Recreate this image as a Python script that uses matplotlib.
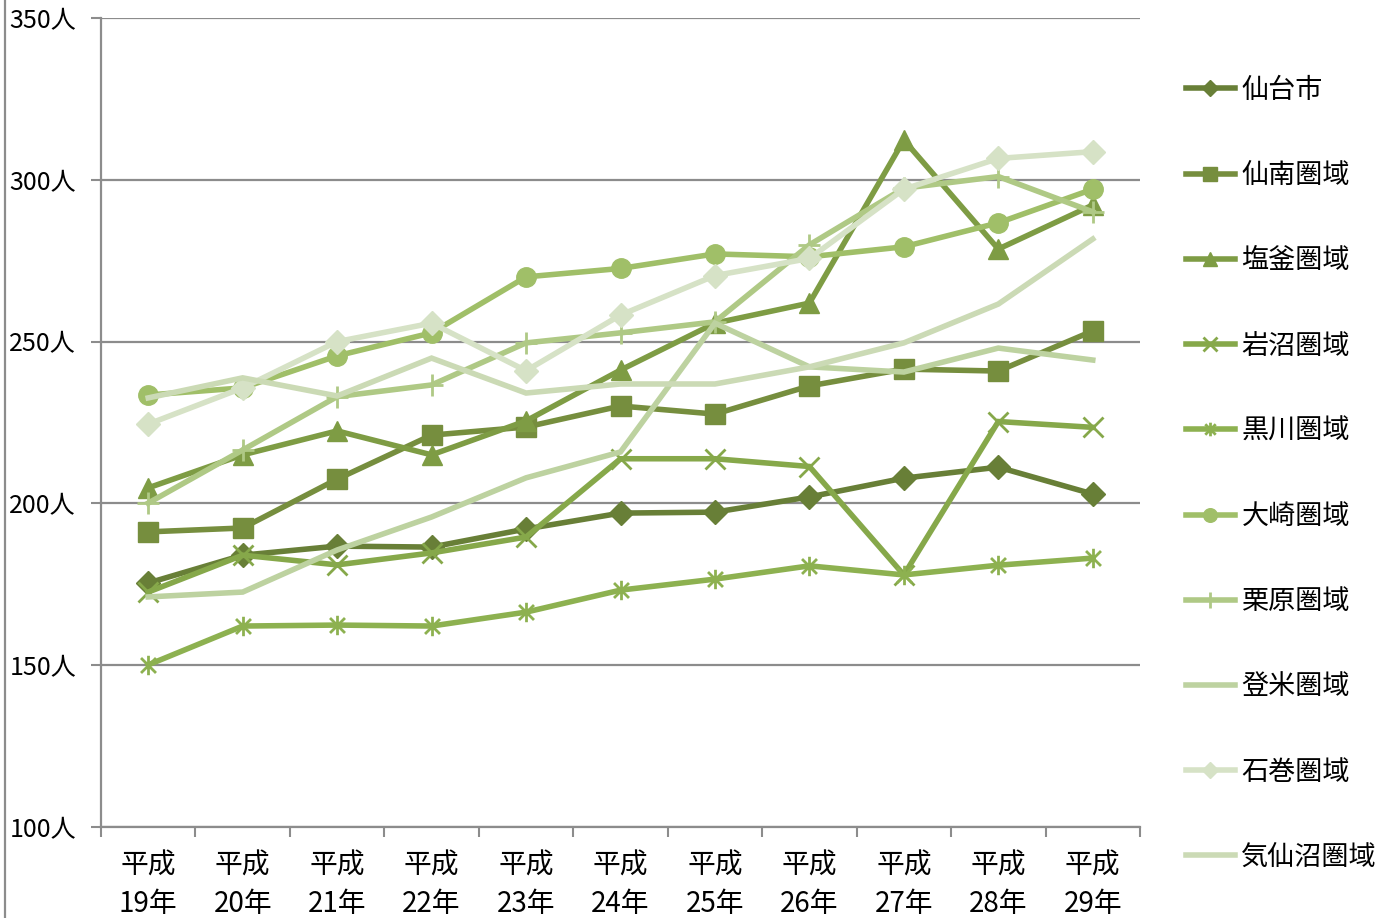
import matplotlib
matplotlib.use("Agg")
import matplotlib.pyplot as plt
from matplotlib.path import Path
from matplotlib.lines import Line2D

plt.rcParams['font.family'] = ['Noto Sans CJK JP', 'DejaVu Sans']

years = ["平成\n19年", "平成\n20年", "平成\n21年", "平成\n22年", "平成\n23年", "平成\n24年",
         "平成\n25年", "平成\n26年", "平成\n27年", "平成\n28年", "平成\n29年"]

series_names = ["仙台市", "仙南圏域", "塩釜圏域", "岩沼圏域", "黒川圏域",
                "大崎圏域", "栗原圏域", "登米圏域", "石巻圏域", "気仙沼圏域"]

sendai = [175.4, 184.0, 186.8, 186.5, 192.1, 197.0, 197.3, 202.0, 207.8, 211.2, 202.9]
sennan = [191.2, 192.4, 207.5, 221.1, 223.6, 230.1, 227.6, 236.3, 241.5, 240.9, 253.3]
shiogama = [204.8, 215.0, 222.4, 215.0, 225.5, 241.2, 255.7, 261.9, 312.3, 278.6, 292.2]
iwanuma = [172.6, 184.0, 181.0, 184.7, 189.6, 213.8, 213.8, 211.4, 177.9, 225.3, 223.5]
kurokawa = [150.1, 162.1, 162.4, 162.1, 166.4, 173.2, 176.6, 180.7, 177.9, 180.9, 183.1]
osaki = [233.5, 235.7, 245.6, 252.7, 270.0, 272.6, 277.1, 276.2, 279.3, 286.7, 297.1]
kurihara = [200.1, 216.5, 233.0, 236.6, 249.6, 252.7, 256.1, 279.9, 297.4, 301.0, 290.1]
tome = [171.1, 172.6, 185.6, 195.8, 207.9, 215.9, 255.7, 242.2, 240.6, 248.0, 244.3]
ishinomaki = [224.5, 235.7, 250.0, 255.7, 241.0, 258.2, 270.4, 275.7, 297.1, 306.6, 308.7]
kesennuma = [232.6, 238.8, 233.2, 244.9, 234.1, 236.9, 236.9, 242.2, 249.6, 261.6, 281.7]

y_ticks = [100, 150, 200, 250, 300, 350]

all_values = [sendai, sennan, shiogama, iwanuma, kurokawa, osaki, kurihara, tome, ishinomaki, kesennuma]

colors = ['#687f37', '#768e3e', '#7e9c44', '#86a84a', '#8db150',
          '#a0bf68', '#afc985', '#bdd2a0', '#d6e2c6', '#cbdab5']

asterisk = Path([(-1, -1), (1, 1), (-1, 1), (1, -1), (0, -1.3), (0, 1.3)],
                [Path.MOVETO, Path.LINETO, Path.MOVETO, Path.LINETO, Path.MOVETO, Path.LINETO])

styles = [
    dict(marker='D', ms=12),
    dict(marker='s', ms=14),
    dict(marker='^', ms=15),
    dict(marker='x', ms=14, mew=2),
    dict(marker=asterisk, ms=14, mew=2, mfc='none'),
    dict(marker='o', ms=14),
    dict(marker='+', ms=16, mew=2),
    dict(marker=None),
    dict(marker='D', ms=12),
    dict(marker=None),
]

fig = plt.figure(figsize=(13.94, 9.18), dpi=100)
ax = fig.add_axes([101 / 1394, 1 - 827 / 918, (1140 - 101) / 1394, (827 - 18) / 918])

x = list(range(len(years)))
handles = []
for i, (vals, name, c, st) in enumerate(zip(all_values, series_names, colors, styles)):
    st = dict(st)
    kw = dict(color=c, lw=4.0, zorder=3 + i, solid_joinstyle='miter', label=name)
    if st.get('marker') is not None:
        kw['marker'] = st.pop('marker')
        kw['markersize'] = st.pop('ms')
        kw['markeredgecolor'] = c
        if 'mfc' in st:
            kw['markerfacecolor'] = st.pop('mfc')
        else:
            kw['markerfacecolor'] = c
        if 'mew' in st:
            kw['markeredgewidth'] = st.pop('mew')
    line, = ax.plot(x, vals, **kw)
    handles.append(line)

ax.set_xlim(-0.5, len(years) - 0.5)
ax.set_ylim(100, 350)
ax.set_yticks(y_ticks)
ax.set_yticklabels([f"{v}人" for v in y_ticks], fontsize=18)
ax.set_xticks(x)
ax.set_xticklabels(years, fontsize=20, linespacing=1.38)
ax.set_xticks([i - 0.5 for i in range(len(years) + 1)], minor=True)
ax.tick_params(axis='x', which='major', length=0, pad=17)
ax.tick_params(axis='x', which='minor', length=7, width=1.5, color='#8c8c8c')
ax.tick_params(axis='y', which='major', length=7, width=1.5, color='#8c8c8c', pad=11)

ax.grid(axis='y', color='#8c8c8c', lw=1.6, zorder=0)
ax.set_axisbelow(True)
for s in ['top', 'right']:
    ax.spines[s].set_visible(False)
for s in ['left', 'bottom']:
    ax.spines[s].set_color('#8c8c8c')
    ax.spines[s].set_linewidth(1.6)

fig.add_artist(Line2D([5 / 1394, 5 / 1394], [0, 1], color='#8c8c8c', lw=1.6))

leg = fig.legend(handles=handles, loc='upper left', bbox_to_anchor=(1175 / 1394, 1 - 66 / 918),
                 frameon=False, fontsize=19.5, handlelength=1.8, handletextpad=0.25,
                 labelspacing=2.15, markerscale=0.7, borderaxespad=0)

fig.savefig("out.png", dpi=100)
